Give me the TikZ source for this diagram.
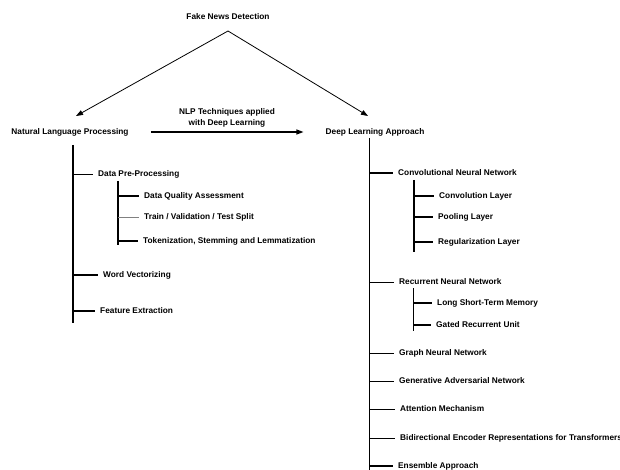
\documentclass[tikz,border=0pt]{standalone}
\usepackage{fontspec}
\setmainfont{Liberation Sans}
\usetikzlibrary{arrows.meta}

\begin{document}
\begin{tikzpicture}[x=1pt, y=-1pt,
  every node/.style={font=\fontsize{8.3}{11}\selectfont\bfseries, inner sep=2pt},
  leaf/.style={anchor=west, inner xsep=5pt, inner ysep=1pt},
  arr/.style={-{Triangle[length=7pt,width=5pt]}, line width=0.8pt},
  trunk/.style={line width=1.2pt},
  twig/.style={line width=0.9pt}]
  \clip (0,0) rectangle (620,470);
  % Root
  \node (fnd) at (228,17) {Fake News Detection};
  \coordinate (apex) at (228,31);
  \node (nlp) at (70,132) {Natural Language Processing};
  \node (dla) at (375,132) {Deep Learning Approach};
  \coordinate (nlptip) at (76,116);
  \coordinate (dlatip) at (368,116);
  \draw[arr] (apex) -- (nlptip);
  \draw[arr] (apex) -- (dlatip);
  \draw[arr, line width=1.2pt, shorten <=20pt, shorten >=20pt] (nlp.east) -- (dla.west);
  \node[align=center] (nlpdl) at (227,117.5) {NLP Techniques applied\\with Deep Learning};
  % NLP branch
  \coordinate (nlptop) at (73,145);
  \coordinate (nlpbot) at (73,323);
  \draw[trunk] (nlptop) -- (nlpbot);
  \node[leaf] (dpp) at (93,174) {Data Pre-Processing};
  \node[leaf] (wv) at (98,275) {Word Vectorizing};
  \node[leaf] (fe) at (95,311) {Feature Extraction};
  \draw[twig] (nlptop |- dpp.west) -- (dpp.west);
  \draw[trunk] (nlptop |- wv.west) -- (wv.west);
  \draw[trunk] (nlptop |- fe.west) -- (fe.west);
  \coordinate (dpptop) at (118,181);
  \coordinate (dppbot) at (118,245);
  \draw[trunk] (dpptop) -- (dppbot);
  \node[leaf] (dqa) at (139,196) {Data Quality Assessment};
  \node[leaf] (tvt) at (139,217) {Train / Validation / Test Split};
  \node[leaf] (tok) at (138,241) {Tokenization, Stemming and Lemmatization};
  \draw[trunk] (dpptop |- dqa.west) -- (dqa.west);
  \draw[twig, gray] (dpptop |- tvt.west) -- (tvt.west);
  \draw[trunk] (dpptop |- tok.west) -- (tok.west);
  % Deep learning branch
  \coordinate (dlatop) at (369,138);
  \coordinate (dlabot) at (369,472);
  \draw[twig] (dlatop) -- (dlabot);
  \node[leaf] (cnn) at (393,173) {Convolutional Neural Network};
  \node[leaf] (rnn) at (394,282) {Recurrent Neural Network};
  \node[leaf] (gnn) at (394,353) {Graph Neural Network};
  \node[leaf] (gan) at (394,381) {Generative Adversarial Network};
  \node[leaf] (att) at (395,409) {Attention Mechanism};
  \node[leaf] (bert) at (395,438) {Bidirectional Encoder Representations for Transformers};
  \node[leaf] (ens) at (393,466) {Ensemble Approach};
  \draw[trunk] (dlatop |- cnn.west) -- (cnn.west);
  \foreach \n in {rnn,gnn,gan,att,bert}
    \draw[twig] (dlatop |- \n.west) -- (\n.west);
  \draw[trunk] (dlatop |- ens.west) -- (ens.west);
  \coordinate (cnntop) at (414,180);
  \coordinate (cnnbot) at (414,252);
  \draw[trunk] (cnntop) -- (cnnbot);
  \node[leaf] (cl) at (434,196) {Convolution Layer};
  \node[leaf] (pl) at (433,217) {Pooling Layer};
  \node[leaf] (rl) at (433,242) {Regularization Layer};
  \foreach \n in {cl,pl,rl}
    \draw[trunk] (cnntop |- \n.west) -- (\n.west);
  \coordinate (rnntop) at (413,288);
  \coordinate (rnnbot) at (413,331);
  \draw[twig] (rnntop) -- (rnnbot);
  \node[leaf] (lstm) at (432,303) {Long Short-Term Memory};
  \node[leaf] (gru) at (431,325) {Gated Recurrent Unit};
  \foreach \n in {lstm,gru}
    \draw[trunk] (rnntop |- \n.west) -- (\n.west);
\end{tikzpicture}
\end{document}
